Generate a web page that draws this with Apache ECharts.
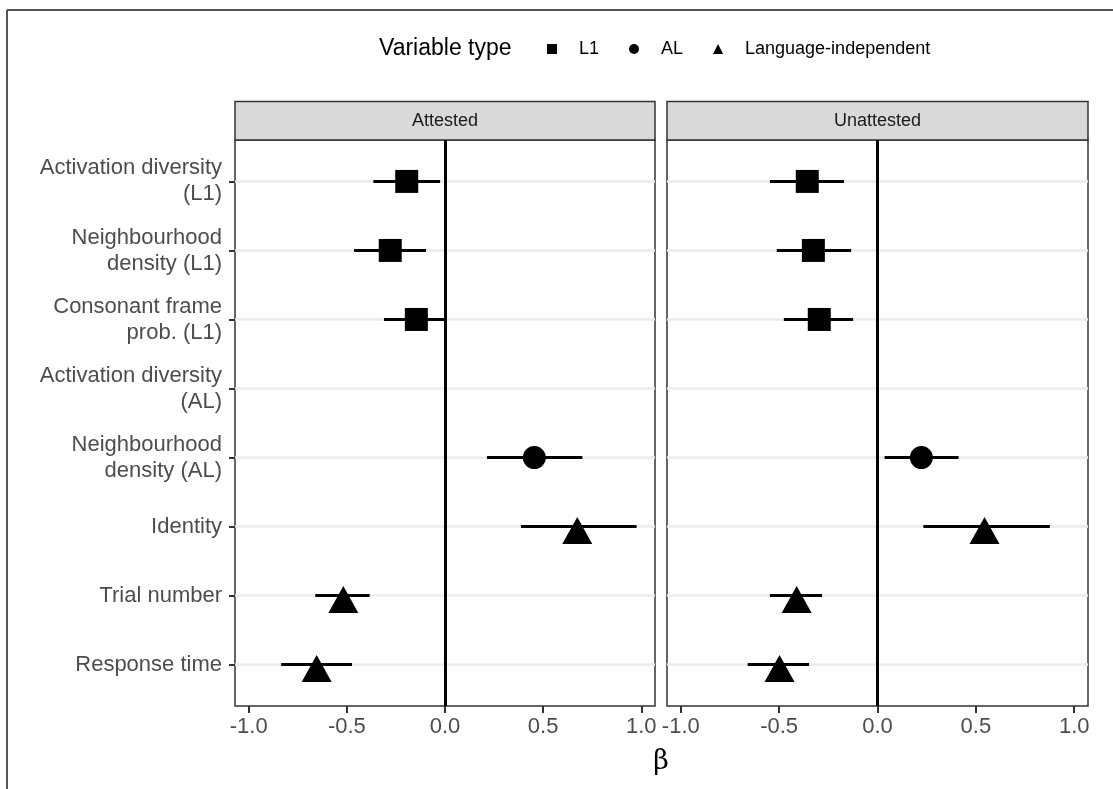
<!DOCTYPE html>
<html>
<head>
<meta charset="utf-8">
<script src="https://cdn.jsdelivr.net/npm/echarts@6/dist/echarts.min.js"></script>
<style>
  html, body { margin: 0; padding: 0; background: #fff; }
  #chart { width: 1113px; height: 789px; }
</style>
</head>
<body>
<div id="chart"></div>
<script>
  // rows, top to bottom
  var categories = [
    'Activation diversity\n(L1)',
    'Neighbourhood\ndensity (L1)',
    'Consonant frame\nprob. (L1)',
    'Activation diversity\n(AL)',
    'Neighbourhood\ndensity (AL)',
    'Identity',
    'Trial number',
    'Response time'
  ];
  var varTypes = ['L1', 'L1', 'L1', 'AL', 'AL', 'Language-independent', 'Language-independent', 'Language-independent'];
  var panels = ['Attested', 'Unattested'];
  var xTicks = [-1, -0.5, 0, 0.5, 1];

  // Attested: estimate and interval
  var attEst = [-0.195, -0.279, -0.146, null, 0.455, 0.674, -0.518, -0.654];
  var attLo  = [-0.365, -0.464, -0.311, null, 0.214, 0.387, -0.661, -0.835];
  var attHi  = [-0.025, -0.097, -0.003, null, 0.700, 0.976, -0.384, -0.474];

  // Unattested: estimate and interval
  var unaEst = [-0.357, -0.326, -0.296, null, 0.223, 0.544, -0.411, -0.498];
  var unaLo  = [-0.547, -0.512, -0.476, null, 0.036, 0.233, -0.547, -0.660];
  var unaHi  = [-0.170, -0.134, -0.124, null, 0.412, 0.876, -0.282, -0.348];

  var FONT = 'Liberation Sans, Arial, Helvetica, sans-serif';
  var shapes = {
    'L1': { symbol: 'rect', size: 23, offset: [0, 0] },
    'AL': { symbol: 'circle', size: 23, offset: [0, 0] },
    'Language-independent': { symbol: 'triangle', size: [30, 27], offset: [0, 4] }
  };

  var myChart = echarts.init(document.getElementById('chart'), null, { renderer: 'canvas' });

  var grids = [
    { left: 235, top: 140, width: 420, height: 566 },
    { left: 667, top: 140, width: 421, height: 566 }
  ];

  var xAxes = [], yAxes = [], series = [], graphics = [];
  var panelData = [[attEst, attLo, attHi], [unaEst, unaLo, unaHi]];

  grids.forEach(function (g, p) {
    g.show = true;
    g.borderColor = '#333333';
    g.borderWidth = 1.5;
    g.backgroundColor = '#ffffff';
    g.containLabel = false;

    xAxes.push({
      type: 'value', gridIndex: p, min: -1.07, max: 1.07,
      axisLine: { show: false, onZero: false },
      splitLine: { show: false },
      axisTick: { show: true, length: 7, customValues: xTicks, lineStyle: { color: '#333333', width: 2 } },
      axisLabel: {
        customValues: xTicks, margin: 10, color: '#4D4D4D', fontSize: 22, fontFamily: FONT,
        formatter: function (v) { return v.toFixed(1); }
      }
    });

    yAxes.push({
      type: 'value', gridIndex: p, min: 0.4, max: 8.6, inverse: true,
      axisLine: { show: false, onZero: false },
      axisTick: {
        show: p === 0, length: 6,
        customValues: [1, 2, 3, 4, 5, 6, 7, 8],
        lineStyle: { color: '#333333', width: 2 }
      },
      splitLine: { show: true, lineStyle: { color: '#EBEBEB', width: 2.5 } },
      axisLabel: {
        show: p === 0, customValues: [1, 2, 3, 4, 5, 6, 7, 8],
        margin: 13, color: '#4D4D4D', fontSize: 22, fontFamily: FONT, lineHeight: 26, align: 'right',
        formatter: function (v) { return categories[Math.round(v) - 1] || ''; }
      }
    });

    var est = panelData[p][0], lo = panelData[p][1], hi = panelData[p][2];

    // error bars + zero line
    var barData = [];
    est.forEach(function (e, i) {
      if (e !== null) barData.push([lo[i], hi[i], i + 1]);
    });
    series.push({
      type: 'custom', xAxisIndex: p, yAxisIndex: p, silent: true,
      encode: { x: [0, 1], y: 2 },
      data: barData,
      renderItem: function (params, api) {
        var a = api.coord([api.value(0), api.value(2)]);
        var b = api.coord([api.value(1), api.value(2)]);
        return {
          type: 'line',
          shape: { x1: a[0], y1: a[1], x2: b[0], y2: b[1] },
          style: { stroke: '#000', lineWidth: 3 }
        };
      },
      markLine: {
        silent: true, symbol: 'none', label: { show: false },
        lineStyle: { color: '#000', width: 3, type: 'solid' },
        data: [{ xAxis: 0 }]
      },
      z: 2
    });

    // points, one series per variable type
    ['L1', 'AL', 'Language-independent'].forEach(function (t) {
      var pts = [];
      est.forEach(function (e, i) {
        if (e !== null && varTypes[i] === t) pts.push([e, i + 1]);
      });
      series.push({
        name: t, type: 'scatter', xAxisIndex: p, yAxisIndex: p,
        symbol: shapes[t].symbol, symbolSize: shapes[t].size, symbolOffset: shapes[t].offset,
        itemStyle: { color: '#000', opacity: 1 },
        data: pts, z: 3
      });
    });

    // facet strip
    graphics.push({
      type: 'rect',
      shape: { x: g.left, y: 101.5, width: g.width, height: 38.5 },
      style: { fill: '#D9D9D9', stroke: '#333333', lineWidth: 1.5 }
    });
    graphics.push({
      type: 'text', x: g.left + g.width / 2, y: 121,
      style: { text: panels[p], fill: '#1A1A1A', font: '18px ' + FONT, align: 'center', verticalAlign: 'middle' }
    });
  });

  // outer frame and axis title
  graphics.push({ type: 'line', shape: { x1: 7, y1: 10, x2: 1113, y2: 10 }, style: { stroke: '#555555', lineWidth: 2 } });
  graphics.push({ type: 'line', shape: { x1: 7, y1: 10, x2: 7, y2: 789 }, style: { stroke: '#555555', lineWidth: 2 } });
  graphics.push({
    type: 'text', x: 661, y: 762,
    style: { text: 'β', fill: '#000', font: '27px DejaVu Serif, Liberation Serif, serif', align: 'center', verticalAlign: 'middle' }
  });

  myChart.setOption({
    animation: false,
    title: {
      text: 'Variable type', left: 374, top: 32,
      textStyle: { color: '#000', fontSize: 23, fontWeight: 'normal', fontFamily: FONT }
    },
    legend: {
      left: 542, top: 35,
      itemWidth: 10, itemHeight: 10, itemGap: 30,
      selectedMode: false,
      data: [
        { name: 'L1', icon: 'rect' },
        { name: 'AL', icon: 'circle' },
        { name: 'Language-independent', icon: 'triangle' }
      ],
      textStyle: { color: '#000', fontSize: 18, fontFamily: FONT, padding: [0, 0, 0, 17] }
    },
    grid: grids,
    xAxis: xAxes,
    yAxis: yAxes,
    series: series,
    graphic: graphics
  });
</script>
</body>
</html>
